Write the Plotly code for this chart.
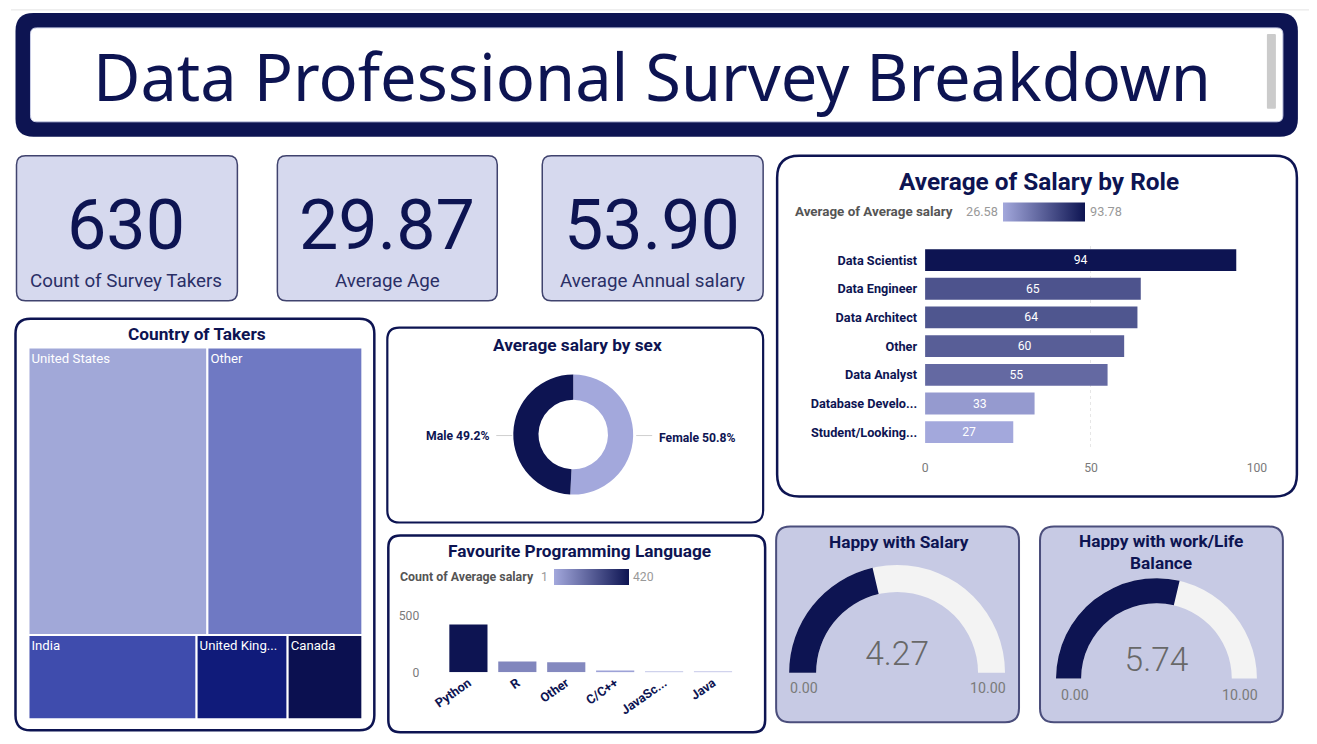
import plotly.graph_objects as go

W, H = 1317, 744
# measured mapping from figure pixels to the photographed page
AX, BX = 10.5, 0.9906
AY, BY = 14.1, 0.982

# ---------------- data ----------------
kpi_count = 630
kpi_avg_age = 29.87
kpi_avg_salary = 53.90

roles = ["Data Scientist", "Data Engineer", "Data Architect", "Other",
         "Data Analyst", "Database Developer", "Student/Looking/None"]
role_labels = ["Data Scientist", "Data Engineer", "Data Architect", "Other",
               "Data Analyst", "Database Develo...", "Student/Looking..."]
role_salary = [93.78, 65.0, 64.0, 60.0, 55.0, 33.0, 26.58]

countries = ["United States", "Other", "India", "United Kingdom", "Canada"]
country_labels = ["United States", "Other", "India", "United King...", "Canada"]
country_counts = [261, 226, 72, 39, 32]

sexes = ["Female", "Male"]
sex_salary = [55.30, 53.56]

languages = ["Python", "R", "Other", "C/C++", "JavaScript", "Java"]
language_labels = ["Python", "R", "Other", "C/C++", "JavaSc...", "Java"]
language_counts = [420, 96, 88, 17, 8, 1]

happy_salary = 4.27
happy_balance = 5.74
gauge_range = [0, 10]

# ---------------- styles ----------------
NAVY = "#0d1452"
LIGHT = "#a3a8dc"
GRAY = "#7a7a7a"
KPI_FILL = "#d6d9ee"
GAUGE_FILL = "#c7cae4"
CARD_EDGE = "#40436e"
F_TITLE = "Noto Sans"
F_NUM = "Roboto"
F_HEAD = "Roboto"
FS = 1.015  # font scale compensation


def px(x):
    return ((x - AX) / BX) / W


def py(y):
    return 1 - ((y - AY) / BY) / H


def fs(s):
    return round(s * FS, 2)


def rrect(x0, y0, x1, y1, r, fill, line_color=None, line_width=0):
    p = (f"M {px(x0 + r)},{py(y0)} L {px(x1 - r)},{py(y0)} "
         f"Q {px(x1)},{py(y0)} {px(x1)},{py(y0 + r)} L {px(x1)},{py(y1 - r)} "
         f"Q {px(x1)},{py(y1)} {px(x1 - r)},{py(y1)} L {px(x0 + r)},{py(y1)} "
         f"Q {px(x0)},{py(y1)} {px(x0)},{py(y1 - r)} L {px(x0)},{py(y0 + r)} "
         f"Q {px(x0)},{py(y0)} {px(x0 + r)},{py(y0)} Z")
    return dict(type="path", xref="paper", yref="paper", path=p,
                fillcolor=fill, line=dict(color=line_color or fill, width=line_width),
                layer="below")


def txt(x, y, s, size, color, family, bold=False, xanchor="center", yanchor="middle",
        weight=None):
    w = weight if weight is not None else ("bold" if bold else "normal")
    return dict(x=px(x), y=py(y), xref="paper", yref="paper", text=s, showarrow=False,
                font=dict(size=fs(size), color=color, family=family, weight=w),
                xanchor=xanchor, yanchor=yanchor)


fig = go.Figure()

# ---- Salary by role (horizontal bars) ----
fig.add_trace(go.Bar(
    x=role_salary, y=roles, orientation="h", width=0.76,
    marker=dict(color=role_salary, colorscale=[[0, LIGHT], [1, NAVY]],
                cmin=min(role_salary), cmax=max(role_salary), line=dict(width=0),
                showscale=True,
                colorbar=dict(orientation="h", x=px(1003), xanchor="left",
                              y=py(211.5), yanchor="middle", len=82, lenmode="pixels",
                              thickness=19, showticklabels=False, ticks="",
                              outlinewidth=0, xpad=0, ypad=0)),
    text=role_salary, texttemplate="%{x:.0f}", textposition="inside",
    insidetextanchor="middle", textfont=dict(color="white", size=fs(12), family=F_HEAD),
    xaxis="x", yaxis="y", hoverinfo="skip"))

# ---- Favourite programming language (vertical bars) ----
fig.add_trace(go.Bar(
    x=languages, y=language_counts, width=0.78,
    marker=dict(color=language_counts, colorscale=[[0, LIGHT], [1, NAVY]],
                cmin=min(language_counts), cmax=max(language_counts), line=dict(width=0),
                showscale=True,
                colorbar=dict(orientation="h", x=px(554), xanchor="left",
                              y=py(577), yanchor="middle", len=75, lenmode="pixels",
                              thickness=16, showticklabels=False, ticks="",
                              outlinewidth=0, xpad=0, ypad=0)),
    xaxis="x2", yaxis="y2", hoverinfo="skip"))

# ---- Donut ----
fig.add_trace(go.Pie(
    labels=sexes, values=sex_salary, hole=0.58, sort=False, direction="clockwise",
    rotation=0, marker=dict(colors=[LIGHT, NAVY], line=dict(width=0)),
    textinfo="none",
    domain=dict(x=[px(513), px(633)], y=[py(494), py(374)]),
    showlegend=False, hoverinfo="skip"))

# ---- Treemap ----
fig.add_trace(go.Treemap(
    labels=countries, parents=[""] * len(countries), values=country_counts,
    text=country_labels, texttemplate="%{text}", textposition="top left",
    textfont=dict(size=fs(13), color="white", family=F_HEAD),
    marker=dict(colors=["#a1a8d8", "#6f79c3", "#3f4cad", "#101b7a", "#0b1050"],
                line=dict(width=2, color="white"), pad=dict(t=0, l=0, r=0, b=0)),
    tiling=dict(packing="squarify", pad=0), pathbar=dict(visible=False),
    root=dict(color="rgba(0,0,0,0)"), sort=True,
    domain=dict(x=[px(28), px(362)], y=[py(719), py(347)]),
    hoverinfo="skip"))

# ---- Gauges ----
for val, xd, yd in [(happy_salary, (789, 1005), (564, 673)),
                    (happy_balance, (1056, 1257), (577, 679))]:
    fig.add_trace(go.Indicator(
        mode="gauge+number", value=val,
        number=dict(valueformat=".2f", font=dict(size=fs(33), color="#686868",
                                                 family=F_NUM, weight=300)),
        gauge=dict(shape="angular",
                   axis=dict(range=gauge_range, showticklabels=False, ticks="",
                             tickwidth=0),
                   bar=dict(color=NAVY, thickness=1, line=dict(width=0)),
                   bgcolor="#f3f3f3", borderwidth=0),
        domain=dict(x=[px(xd[0]), px(xd[1])], y=[py(yd[1]), py(yd[0])])))

# ---------------- shapes ----------------
shapes = []
shapes.append(dict(type="line", xref="paper", yref="paper", x0=0, x1=1, y0=py(9), y1=py(9),
                   line=dict(color="#e4e4e4", width=1), layer="below"))
shapes.append(dict(type="line", xref="paper", yref="paper", x0=px(1310), x1=px(1310),
                   y0=py(9), y1=0, line=dict(color="#e4e4e4", width=1), layer="below"))
# title box
shapes.append(rrect(15, 12, 1298, 136, 18, NAVY))
shapes.append(rrect(30, 27, 1283, 121, 6, "white", "#c9cde6", 1))
shapes.append(rrect(1267, 33, 1276, 108, 1, "#cbcbcb"))
# KPI cards
for x0, x1 in [(16, 237), (277, 497), (542, 763)]:
    shapes.append(rrect(x0, 155, x1, 300, 9, KPI_FILL, CARD_EDGE, 1.5))
# role card
shapes.append(rrect(777, 155, 1297, 496, 22, "white", NAVY, 2.5))
# treemap card
shapes.append(rrect(15, 318, 374, 730, 15, "white", NAVY, 2.5))
# donut card
shapes.append(rrect(387, 327, 763, 522, 12, "white", NAVY, 2.2))
# language card
shapes.append(rrect(388, 535, 765, 732, 12, "white", NAVY, 2.5))
# gauge cards
shapes.append(rrect(776, 526, 1019, 722, 14, GAUGE_FILL, "#4b4e7c", 2))
shapes.append(rrect(1040, 526, 1283, 722, 14, GAUGE_FILL, "#4b4e7c", 2))
# donut label leader lines
shapes.append(dict(type="line", xref="paper", yref="paper", x0=px(496), x1=px(512),
                   y0=py(435), y1=py(435), line=dict(color="#cfcfcf", width=1)))
shapes.append(dict(type="line", xref="paper", yref="paper", x0=px(636), x1=px(652),
                   y0=py(435), y1=py(435), line=dict(color="#cfcfcf", width=1)))

# ---------------- annotations ----------------
ann = []
ann.append(txt(652, 75, "Data Professional Survey Breakdown", 64, NAVY, F_TITLE))
kpis = [(126, f"{kpi_count}", "Count of Survey Takers"),
        (387, f"{kpi_avg_age:.2f}", "Average Age"),
        (652, f"{kpi_avg_salary:.2f}", "Average Annual salary")]
for cx, v, lab in kpis:
    ann.append(txt(cx, 224, v, 69, NAVY, F_NUM))
    ann.append(txt(cx, 280, lab, 18.5, "#2a2f66", F_NUM))

ann.append(txt(1039, 181, "Average of Salary by Role", 24, NAVY, F_HEAD, bold=True))
ann.append(txt(793, 211, "Average of Average salary", 13.2, "#555", F_HEAD, bold=True, xanchor="left"))
ann.append(txt(1000, 211, f"{min(role_salary):.2f}", 12.5, "#999", F_HEAD, xanchor="right"))
ann.append(txt(1088, 211, f"{max(role_salary):.2f}", 12.5, "#999", F_HEAD, xanchor="left"))

ann.append(txt(197, 333, "Country of Takers", 17, NAVY, F_HEAD, bold=True))
ann.append(txt(577, 344, "Average salary by sex", 17, NAVY, F_HEAD, bold=True))
tot = sum(sex_salary)
ann.append(txt(491, 435, f"{sexes[1]} {sex_salary[1] / tot:.1%}", 12, NAVY, F_HEAD,
               bold=True, xanchor="right"))
ann.append(txt(657, 437, f"{sexes[0]} {sex_salary[0] / tot:.1%}", 12, NAVY, F_HEAD,
               bold=True, xanchor="left"))
ann.append(txt(579, 551, "Favourite Programming Language", 17, NAVY, F_HEAD, bold=True))
ann.append(txt(398, 577, "Count of Average salary", 12.2, "#555", F_HEAD, bold=True, xanchor="left"))
ann.append(txt(550, 577, f"{min(language_counts)}", 12, "#999", F_HEAD, xanchor="right"))
ann.append(txt(631, 577, f"{max(language_counts)}", 12, "#999", F_HEAD, xanchor="left"))

ann.append(txt(899, 542, "Happy with Salary", 17, NAVY, F_HEAD, bold=True))
ann.append(txt(1161, 552, "Happy with work/Life<br>Balance", 17, NAVY, F_HEAD, bold=True))
ann.append(txt(804, 688, f"{gauge_range[0]:.2f}", 14, GRAY, F_NUM))
ann.append(txt(988, 688, f"{gauge_range[1]:.2f}", 14, GRAY, F_NUM))
ann.append(txt(1075, 695, f"{gauge_range[0]:.2f}", 14, GRAY, F_NUM))
ann.append(txt(1240, 695, f"{gauge_range[1]:.2f}", 14, GRAY, F_NUM))

fig.update_layout(
    width=W, height=H, margin=dict(l=0, r=0, t=0, b=0),
    paper_bgcolor="white", plot_bgcolor="rgba(0,0,0,0)",
    showlegend=False, shapes=shapes, annotations=ann,
    xaxis=dict(domain=[px(925), px(1257)], range=[0, 100], tickvals=[0, 50, 100],
               showgrid=True, gridcolor="#e6e6e6", griddash="dot", zeroline=False,
               showline=False, ticks="", ticklabelstandoff=12,
               tickfont=dict(size=fs(12), color=GRAY, family=F_HEAD), anchor="y",
               fixedrange=True),
    yaxis=dict(domain=[py(446), py(245)], categoryorder="array", categoryarray=roles,
               tickvals=roles, ticktext=role_labels, autorange="reversed",
               showgrid=False, zeroline=False, ticks="", ticklabelstandoff=7,
               tickfont=dict(size=fs(12.5), color=NAVY, family=F_HEAD, weight="bold"),
               anchor="x", fixedrange=True),
    xaxis2=dict(domain=[px(428), px(752)], range=[-0.82, 5.8], tickvals=languages,
                ticktext=language_labels, tickangle=-35, showgrid=False, zeroline=False,
                ticks="", tickfont=dict(size=fs(12.5), color=NAVY, family=F_HEAD,
                                        weight="bold"),
                anchor="y2", fixedrange=True),
    yaxis2=dict(domain=[py(672), py(615)], range=[0, 500], tickvals=[0, 500],
                showgrid=True, gridcolor="#e6e6e6", griddash="dot", zeroline=False,
                ticks="", ticklabelstandoff=8,
                tickfont=dict(size=fs(12), color=GRAY, family=F_HEAD), anchor="x2",
                fixedrange=True),
    font=dict(family=F_HEAD),
)

fig.write_html("out.html")
